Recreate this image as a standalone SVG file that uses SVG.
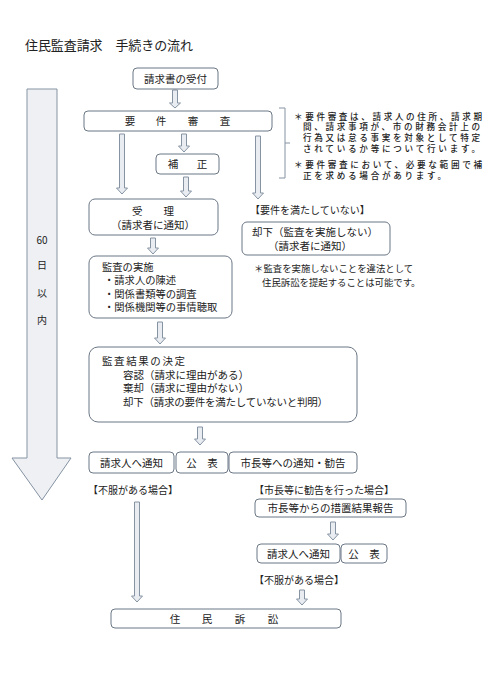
<svg xmlns="http://www.w3.org/2000/svg" width="492" height="685" viewBox="0 0 492 685">
<style>
text{font-family:"Noto Sans CJK JP","Noto Sans",sans-serif;fill:#222;font-size:10.5px}
.box{fill:#fff;stroke:#6b7786;stroke-width:1}
.arr{fill:#e9edf1;stroke:#8593a3;stroke-width:1}
.big{fill:#eef0f3;stroke:#8593a3;stroke-width:1}
.note{font-size:8.6px;font-weight:500}
.note2{font-size:9.4px}
.k{font-size:10.3px}
.mid{text-anchor:middle}
.brace{fill:none;stroke:#8593a3;stroke-width:1}
</style>
<rect width="492" height="685" fill="#fff"/>
<text x="25" y="50" style="font-size:13px" textLength="168">住民監査請求　手続きの流れ</text>

<g id="period">
<path class="big" d="M27,89 H57 V458 H71 L42,500 L12,458 H27 Z"/>
<text class="mid" x="42" y="244" style="font-size:10px">60</text>
<text class="mid" x="42" y="269" style="font-size:10px">日</text>
<text class="mid" x="42" y="297" style="font-size:10px">以</text>
<text class="mid" x="42" y="324" style="font-size:10px">内</text>
</g>

<g id="connectors">
<path class="arr" d="M172.5,90 H177.5 V103 H180.5 L175,108 L169.5,103 H172.5 Z"/>
<path class="arr" d="M119.5,134 H124.5 V188 H127.5 L122,194 L116.5,188 H119.5 Z"/>
<path class="arr" d="M181.5,134 H186.5 V146 H189.5 L184,152 L178.5,146 H181.5 Z"/>
<path class="arr" d="M255.5,136 H260.5 V193 H263.5 L258,199 L252.5,193 H255.5 Z"/>
<path class="arr" d="M183.5,177 H188.5 V191 H191.5 L186,197 L180.5,191 H183.5 Z"/>
<path class="arr" d="M150.5,238 H155.5 V248 H158.5 L153,254 L147.5,248 H150.5 Z"/>
<path class="arr" d="M157.5,322 H162.5 V338 H165.5 L160,344 L154.5,338 H157.5 Z"/>
<path class="arr" d="M197.5,427 H202.5 V439 H205.5 L200,445 L194.5,439 H197.5 Z"/>
<path class="arr" d="M134.5,502 H139.5 V596 H142.5 L137,602 L131.5,596 H134.5 Z"/>
<path class="arr" d="M330.5,522 H335.5 V534 H338.5 L333,540 L327.5,534 H330.5 Z"/>
<path class="arr" d="M299.5,590 H304.5 V599 H307.5 L302,605 L296.5,599 H299.5 Z"/>
<path class="brace" d="M279,108 H285 V143 L290,143 M285,143 V178 H279"/>
</g>

<g id="uketsuke">
<rect class="box" x="133" y="68" width="85" height="21" rx="4"/>
<text class="mid" x="175.5" y="82.5">請求書の受付</text>
</g>

<g id="youken">
<rect class="box" x="84" y="111" width="188" height="20" rx="4"/>
<text class="mid" x="130" y="125">要</text>
<text class="mid" x="161" y="125">件</text>
<text class="mid" x="193" y="125">審</text>
<text class="mid" x="225" y="125">査</text>
</g>

<g id="note1">
<text class="note"><tspan x="294" y="119.5" textLength="188">＊要件審査は、請求人の住所、請求期</tspan><tspan x="303" y="130.3" textLength="177">間、請求事項が、市の財務会計上の</tspan><tspan x="303" y="141.1" textLength="177">行為又は怠る事実を対象として特定</tspan><tspan x="303" y="151.9" textLength="177">されているか等について行います。</tspan><tspan x="294" y="168.3" textLength="188">＊要件審査において、必要な範囲で補</tspan><tspan x="303" y="179.2" textLength="143">正を求める場合があります。</tspan></text>
</g>

<g id="hosei">
<rect class="box" x="156" y="154" width="63" height="20" rx="4"/>
<text class="mid" x="173" y="168">補</text>
<text class="mid" x="202" y="168">正</text>
</g>

<g id="juri">
<rect class="box" x="89" y="199" width="129" height="36" rx="6"/>
<text class="mid" x="153" y="215">受　　理</text>
<text class="mid" x="153" y="228.5">（請求者に通知）</text>
</g>

<g id="fuyouken-label">
<text x="250" y="214" style="font-size:10px">【要件を満たしていない】</text>
</g>

<g id="kyakka">
<rect class="box" x="242" y="222" width="148" height="33" rx="5"/>
<text x="252" y="236">却下（監査を実施しない）</text>
<text x="268" y="249.5">（請求者に通知）</text>
</g>

<g id="note2">
<text class="note2" x="254" y="272">＊監査を実施しないことを違法として</text>
<text class="note2" x="262" y="286">住民訴訟を提起することは可能です。</text>
</g>

<g id="kansa">
<rect class="box" x="89" y="256" width="143" height="62" rx="7"/>
<text class="k" x="102" y="270.5">監査の実施</text>
<text class="k" x="104" y="284">・請求人の陳述</text>
<text class="k" x="104" y="297.5">・関係書類等の調査</text>
<text class="k" x="104" y="311">・関係機関等の事情聴取</text>
</g>

<g id="kekka">
<rect class="box" x="89" y="347" width="268" height="75" rx="9"/>
<text x="102" y="365" textLength="83">監査結果の決定</text>
<text x="123" y="378.5">容認（請求に理由がある）</text>
<text x="123" y="392">棄却（請求に理由がない）</text>
<text x="123" y="405.5" textLength="205">却下（請求の要件を満たしていないと判明）</text>
</g>

<g id="tsuchi1">
<rect class="box" x="89" y="452" width="85" height="21" rx="4"/>
<text class="mid" x="131.5" y="466.5">請求人へ通知</text>
</g>
<g id="kouhyou1">
<rect class="box" x="176" y="452" width="52" height="21" rx="4"/>
<text class="mid" x="202" y="466.5">公　表</text>
</g>
<g id="kankoku">
<rect class="box" x="229" y="452" width="128" height="21" rx="4"/>
<text class="mid" x="293" y="466.5">市長等への通知・勧告</text>
</g>

<g id="fufuku1">
<text x="88" y="494" style="font-size:10px">【不服がある場合】</text>
</g>
<g id="kankoku-label">
<text x="254" y="494" style="font-size:10px">【市長等に勧告を行った場合】</text>
</g>

<g id="sochi">
<rect class="box" x="255" y="499" width="151" height="18" rx="4"/>
<text class="mid" x="330.5" y="512">市長等からの措置結果報告</text>
</g>

<g id="tsuchi2">
<rect class="box" x="257" y="544" width="83" height="19" rx="4"/>
<text class="mid" x="298.5" y="557.5">請求人へ通知</text>
</g>
<g id="kouhyou2">
<rect class="box" x="341" y="544" width="46" height="19" rx="4"/>
<text class="mid" x="364" y="557.5">公　表</text>
</g>

<g id="fufuku2">
<text x="254" y="584" style="font-size:10px">【不服がある場合】</text>
</g>

<g id="soshou">
<rect class="box" x="111" y="609" width="230" height="19" rx="4"/>
<text class="mid" x="175" y="622.5">住</text>
<text class="mid" x="207" y="622.5">民</text>
<text class="mid" x="240" y="622.5">訴</text>
<text class="mid" x="273" y="622.5">訟</text>
</g>
</svg>
